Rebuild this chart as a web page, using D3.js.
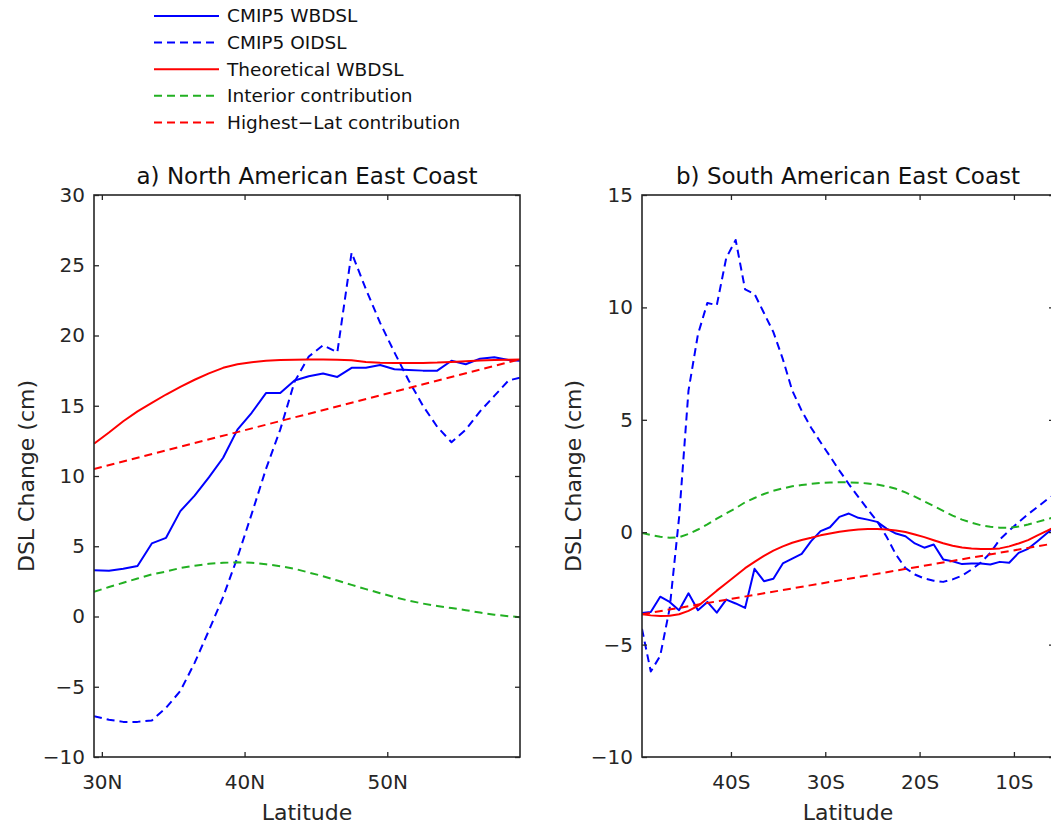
<!DOCTYPE html>
<html>
<head>
<meta charset="utf-8">
<script src="https://cdn.jsdelivr.net/npm/d3@7"></script>
<style>
  body { margin: 0; background: #fff; }
  svg { display: block; font-family: "DejaVu Sans", sans-serif; }
</style>
</head>
<body>
<svg id="chart" width="1051" height="824"></svg>
<script>
// ---- data ----
// a) North American East Coast, latitude in degrees N
const naLat = [29.45, 30.5, 31.5, 32.5, 33.5, 34.5, 35.5, 36.5, 37.5, 38.5, 39.5, 40.5, 41.5, 42.5, 43.5, 44.5,
  45.5, 46.5, 47.5, 48.5, 49.5, 50.5, 51.5, 52.5, 53.5, 54.5, 55.5, 56.5, 57.5, 58.5, 59.3];
const naWbdsl = [3.3, 3.25, 3.4, 3.6, 5.2, 5.6, 7.5, 8.6, 9.9, 11.3, 13.3, 14.5, 15.9, 15.9, 16.8, 17.1,
  17.3, 17.05, 17.7, 17.7, 17.9, 17.6, 17.55, 17.5, 17.5, 18.2, 17.95, 18.35, 18.45, 18.25, 18.2];
const naOidsl = [-7.1, -7.35, -7.5, -7.5, -7.4, -6.5, -5.3, -3.3, -1.0, 1.4, 4.2, 7.3, 10.5, 13.3, 16.7, 18.5,
  19.3, 18.8, 25.9, 23.3, 20.9, 18.8, 16.8, 15.0, 13.5, 12.4, 13.3, 14.6, 15.7, 16.8, 17.0];
const naTheory = [12.3, 13.1, 13.9, 14.6, 15.2, 15.8, 16.35, 16.85, 17.3, 17.7, 17.95, 18.1, 18.2, 18.25, 18.28, 18.3,
  18.3, 18.28, 18.24, 18.12, 18.06, 18.04, 18.04, 18.05, 18.07, 18.12, 18.17, 18.22, 18.26, 18.28, 18.3];
const naInterior = [1.75, 2.1, 2.4, 2.7, 3.0, 3.2, 3.45, 3.62, 3.75, 3.82, 3.86, 3.83, 3.72, 3.58, 3.4, 3.13,
  2.87, 2.56, 2.25, 1.95, 1.66, 1.38, 1.13, 0.92, 0.75, 0.6, 0.45, 0.28, 0.13, 0.02, -0.05];
const naHighLatLat = [29.45, 59.3];
const naHighLat = [10.5, 18.3];

// b) South American East Coast, latitude in degrees (south negative)
const saLat = [-49.43, -48.5, -47.5, -46.5, -45.5, -44.5, -43.5, -42.5, -41.5, -40.5, -39.5, -38.5, -37.5, -36.5, -35.5,
  -34.5, -33.5, -32.5, -31.5, -30.5, -29.5, -28.5, -27.5, -26.5, -25.5, -24.5, -23.5, -22.5, -21.5, -20.5, -19.5,
  -18.5, -17.5, -16.5, -15.5, -14.5, -13.5, -12.5, -11.5, -10.5, -9.5, -8.5, -7.5, -6.5, -5.75];
const saWbdsl = [-3.6, -3.55, -2.87, -3.1, -3.47, -2.72, -3.47, -3.1, -3.58, -3.0, -3.17, -3.37, -1.63, -2.18, -2.07,
  -1.39, -1.18, -0.96, -0.4, 0.05, 0.22, 0.68, 0.83, 0.64, 0.56, 0.46, 0.16, -0.06, -0.18, -0.5, -0.69,
  -0.55, -1.21, -1.29, -1.42, -1.39, -1.39, -1.44, -1.32, -1.36, -0.92, -0.74, -0.4, -0.05, 0.2];
const saOidsl = [-4.3, -6.2, -5.5, -3.4, 0.65, 6.3, 8.8, 10.2, 10.1, 12.2, 13.0, 10.8, 10.6, 9.75, 8.9,
  7.7, 6.3, 5.4, 4.65, 4.0, 3.38, 2.74, 2.14, 1.57, 1.02, 0.49, -0.2, -1.0, -1.6, -1.88, -2.06,
  -2.16, -2.21, -2.1, -1.93, -1.66, -1.35, -0.92, -0.32, 0.07, 0.45, 0.8, 1.12, 1.45, 1.65];
const saTheory = [-3.65, -3.7, -3.73, -3.72, -3.65, -3.5, -3.28, -2.95, -2.6, -2.27, -1.94, -1.6, -1.32, -1.05, -0.82,
  -0.63, -0.47, -0.35, -0.25, -0.14, -0.06, 0.02, 0.08, 0.12, 0.14, 0.14, 0.12, 0.08, 0.01, -0.1, -0.22,
  -0.36, -0.49, -0.6, -0.68, -0.73, -0.75, -0.75, -0.72, -0.63, -0.5, -0.35, -0.14, 0.06, 0.22];
const saInterior = [-0.03, -0.12, -0.2, -0.25, -0.22, -0.08, 0.12, 0.35, 0.6, 0.84, 1.07, 1.33, 1.52, 1.7, 1.84,
  1.95, 2.04, 2.1, 2.15, 2.19, 2.21, 2.22, 2.22, 2.2, 2.17, 2.12, 2.04, 1.93, 1.77, 1.58, 1.37,
  1.16, 0.95, 0.74, 0.56, 0.42, 0.31, 0.24, 0.2, 0.2, 0.25, 0.34, 0.46, 0.58, 0.66];
const saHighLatLat = [-49.43, -5.75];
const saHighLat = [-3.65, -0.5];

const naXTicks = [30, 40, 50];
const naYTicks = [-10, -5, 0, 5, 10, 15, 20, 25, 30];
const saXTicks = [-40, -30, -20, -10];
const saYTicks = [-10, -5, 0, 5, 10, 15];

const legendLabels = ["CMIP5 WBDSL", "CMIP5 OIDSL", "Theoretical WBDSL", "Interior contribution", "Highest\u2212Lat contribution"];

// ---- styles ----
const BLUE = "#0000ff", RED = "#ff0000", GREEN = "#22b022";
const DASH = "8,5";
const styles = [
  { color: BLUE, dash: null },
  { color: BLUE, dash: DASH },
  { color: RED, dash: null },
  { color: GREEN, dash: DASH },
  { color: RED, dash: DASH }
];
const AXIS = "#262626";

const svg = d3.select("#chart");

// legend
const legend = svg.append("g");
legendLabels.forEach((lab, i) => {
  const y = 16 + i * 26.6;
  legend.append("line")
    .attr("x1", 154).attr("x2", 219).attr("y1", y).attr("y2", y)
    .attr("stroke", styles[i].color).attr("stroke-width", 2)
    .attr("stroke-dasharray", styles[i].dash);
  legend.append("text")
    .attr("x", 227).attr("y", y).attr("dy", "0.35em")
    .attr("font-size", 18.5).attr("fill", "#111")
    .text(lab);
});

function latFmt(d) {
  return Math.abs(d) + (d < 0 ? "S" : "N");
}

function drawPanel(opt) {
  const x = d3.scaleLinear().domain(opt.xDomain).range([opt.left, opt.right]);
  const y = d3.scaleLinear().domain(opt.yDomain).range([757, 195]);
  const g = svg.append("g");

  const clipId = "clip-" + opt.id;
  svg.append("clipPath").attr("id", clipId)
    .append("rect")
    .attr("x", opt.left).attr("y", 195)
    .attr("width", opt.right - opt.left).attr("height", 757 - 195);

  const line = d3.line().x(d => x(d[0])).y(d => y(d[1]));
  const plot = g.append("g").attr("clip-path", "url(#" + clipId + ")");

  // draw in MATLAB order: WBDSL, OIDSL, theory, interior, high-lat
  opt.series.forEach((s, i) => {
    plot.append("path")
      .datum(d3.zip(s.lat, s.val))
      .attr("d", line)
      .attr("fill", "none")
      .attr("stroke", styles[i].color)
      .attr("stroke-width", 2)
      .attr("stroke-dasharray", styles[i].dash)
      .attr("stroke-linejoin", "round");
  });

  // axes, ticks pointing inward
  const bottom = g.append("g").attr("transform", `translate(0,757)`)
    .call(d3.axisBottom(x).tickValues(opt.xTicks).tickFormat(latFmt)
      .tickSizeInner(-5).tickSizeOuter(0).tickPadding(18));
  const top = g.append("g").attr("transform", `translate(0,195)`)
    .call(d3.axisTop(x).tickValues(opt.xTicks).tickFormat("")
      .tickSizeInner(-5).tickSizeOuter(0));
  const left = g.append("g").attr("transform", `translate(${opt.left},0)`)
    .call(d3.axisLeft(y).tickValues(opt.yTicks)
      .tickSizeInner(-5).tickSizeOuter(0).tickPadding(9));
  const right = g.append("g").attr("transform", `translate(${opt.right},0)`)
    .call(d3.axisRight(y).tickValues(opt.yTicks).tickFormat("")
      .tickSizeInner(-5).tickSizeOuter(0));

  [bottom, top, left, right].forEach(a => {
    a.select(".domain").remove();
    a.selectAll(".tick line").attr("stroke", AXIS).attr("stroke-width", 1.3);
    a.selectAll("text").attr("font-size", 20).attr("fill", AXIS)
      .attr("font-family", "DejaVu Sans, sans-serif");
  });

  g.append("rect")
    .attr("x", opt.left).attr("y", 195)
    .attr("width", opt.right - opt.left).attr("height", 757 - 195)
    .attr("fill", "none").attr("stroke", AXIS).attr("stroke-width", 1.6);

  const cx = (opt.left + opt.right) / 2;
  g.append("text")
    .attr("x", cx).attr("y", 184)
    .attr("text-anchor", "middle").attr("font-size", 23).attr("fill", "#111")
    .text(opt.title);
  g.append("text")
    .attr("x", cx).attr("y", 820)
    .attr("text-anchor", "middle").attr("font-size", 22).attr("fill", AXIS)
    .text("Latitude");
  g.append("text")
    .attr("transform", `translate(${opt.yLabelX},476) rotate(-90)`)
    .attr("text-anchor", "middle").attr("font-size", 22).attr("fill", AXIS)
    .text("DSL Change (cm)");
}

drawPanel({
  id: "a", left: 94, right: 520, yLabelX: 34,
  xDomain: [29.45, 59.3], yDomain: [-10, 30],
  xTicks: naXTicks, yTicks: naYTicks,
  title: "a) North American East Coast",
  series: [
    { lat: naLat, val: naWbdsl },
    { lat: naLat, val: naOidsl },
    { lat: naLat, val: naTheory },
    { lat: naLat, val: naInterior },
    { lat: naHighLatLat, val: naHighLat }
  ]
});

drawPanel({
  id: "b", left: 642, right: 1054, yLabelX: 581,
  xDomain: [-49.43, -5.75], yDomain: [-10, 15],
  xTicks: saXTicks, yTicks: saYTicks,
  title: "b) South American East Coast",
  series: [
    { lat: saLat, val: saWbdsl },
    { lat: saLat, val: saOidsl },
    { lat: saLat, val: saTheory },
    { lat: saLat, val: saInterior },
    { lat: saHighLatLat, val: saHighLat }
  ]
});
</script>
</body>
</html>
